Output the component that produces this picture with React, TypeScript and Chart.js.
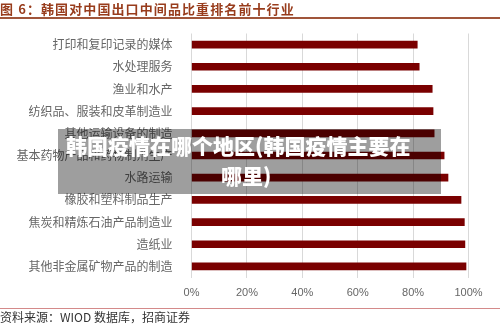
import React, { useEffect, useRef } from "react";
import { Chart, registerables } from "chart.js";

Chart.register(...registerables);

const categories = [
  "打印和复印记录的媒体",
  "水处理服务",
  "渔业和水产",
  "纺织品、服装和皮革制造业",
  "其他运输设备的制造",
  "基本药物产品和药物制剂生产",
  "水路运输",
  "橡胶和塑料制品生产",
  "焦炭和精炼石油产品制造业",
  "造纸业",
  "其他非金属矿物产品的制造",
];
const shares = [81.5, 82.2, 86.9, 87.2, 87.6, 91.2, 92.6, 97.3, 98.5, 98.7, 99.1];
const xMin = 0;
const xMax = 100;
const xStep = 20;

const titleText = "图 6：韩国对中国出口中间品比重排名前十行业";
const sourceText = "资料来源：WIOD 数据库，招商证券";
const overlayLine1 = "韩国疫情在哪个地区(韩国疫情主要在";
const overlayLine2 = "哪里)";

export default function App() {
  const ref = useRef<HTMLCanvasElement>(null);

  useEffect(() => {
    document.body.style.margin = "0";
    const chart = new Chart(ref.current!, {
      type: "bar",
      data: {
        labels: categories,
        datasets: [
          {
            data: shares,
            backgroundColor: "#7a0000",
            borderWidth: 0,
            barThickness: 7,
          },
        ],
      },
      options: {
        indexAxis: "y",
        animation: false,
        responsive: false,
        devicePixelRatio: 1,
        layout: { padding: { top: 33.5, right: 31.5, left: 0, bottom: 0 } },
        plugins: { legend: { display: false }, tooltip: { enabled: false } },
        scales: {
          x: {
            min: xMin,
            max: xMax,
            ticks: {
              stepSize: xStep,
              callback: (v: any) => v + "%",
              color: "#666666",
              font: { family: "'Liberation Sans', sans-serif", size: 11 },
              padding: 9,
            },
            grid: { color: "#d9d9d9", drawTicks: false },
            border: { display: false },
            afterFit: (s: any) => {
              s.height = 46.5;
            },
          },
          y: {
            grid: { display: false },
            border: { display: false },
            ticks: {
              color: "#666666",
              font: { family: "'Noto Sans CJK SC', sans-serif", size: 12 },
              padding: 11,
              autoSkip: false,
            },
            afterFit: (s: any) => {
              s.width = 191.5;
            },
          },
        },
      },
    });
    return () => chart.destroy();
  }, []);

  return (
    <div
      style={{
        position: "relative",
        width: 500,
        height: 324,
        background: "#ffffff",
        overflow: "hidden",
        fontFamily: "'Noto Sans CJK SC', sans-serif",
      }}
    >
      <canvas
        ref={ref}
        width={500}
        height={324}
        style={{ position: "absolute", left: 0, top: 0, display: "block" }}
      />
      <div
        style={{
          position: "absolute",
          left: 0,
          top: 0,
          fontSize: 13,
          lineHeight: "17px",
          fontWeight: 700,
          letterSpacing: 1.1,
          color: "#983c1c",
          whiteSpace: "nowrap",
        }}
      >
        {titleText}
      </div>
      <div
        style={{
          position: "absolute",
          left: 0,
          top: 17,
          width: 500,
          height: 2,
          background: "#a0553a",
        }}
      />
      <div
        style={{
          position: "absolute",
          left: 0,
          top: 308,
          width: 500,
          height: 1,
          background: "#d48a8a",
        }}
      />
      <div
        style={{
          position: "absolute",
          left: 0,
          top: 309,
          fontSize: 12,
          lineHeight: "15px",
          color: "#333333",
          whiteSpace: "nowrap",
        }}
      >
        {sourceText}
      </div>
      <div
        style={{
          position: "absolute",
          left: 58,
          top: 129,
          width: 383,
          height: 65,
          background: "rgba(0,0,0,0.38)",
        }}
      />
      <div
        style={{
          position: "absolute",
          left: 66,
          top: 130,
          fontSize: 21,
          lineHeight: "30px",
          fontWeight: 900,
          color: "#ffffff",
          whiteSpace: "nowrap",
        }}
      >
        {overlayLine1}
      </div>
      <div
        style={{
          position: "absolute",
          left: 221,
          top: 160,
          fontSize: 21,
          lineHeight: "30px",
          fontWeight: 900,
          color: "#ffffff",
          whiteSpace: "nowrap",
        }}
      >
        {overlayLine2}
      </div>
    </div>
  );
}
